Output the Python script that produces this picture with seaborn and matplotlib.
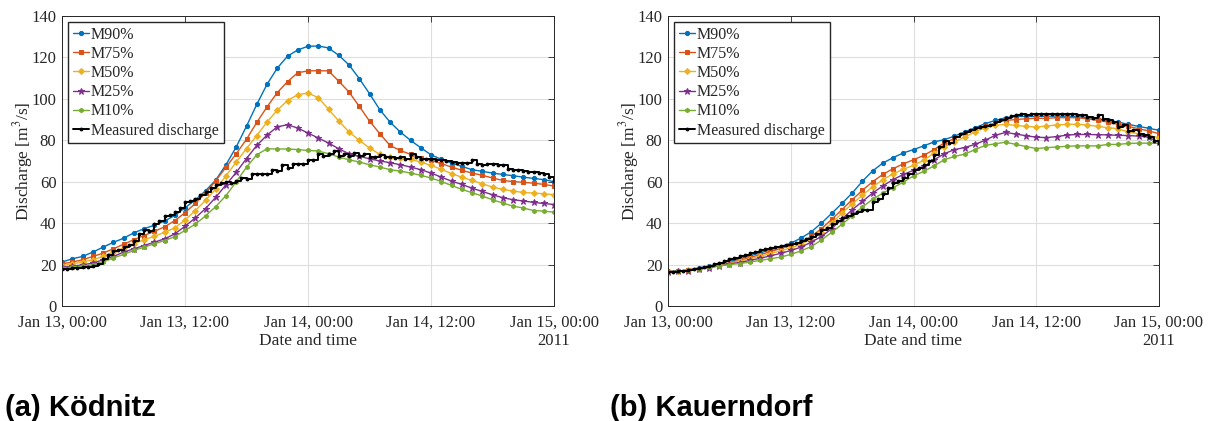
import numpy as np
import pandas as pd
import matplotlib
matplotlib.use("Agg")
import matplotlib.pyplot as plt
import matplotlib.dates as mdates
import seaborn as sns

# hourly model runs (Jan 13 00:00 .. Jan 15 00:00) and half-hourly measurements
hours = pd.date_range("2011-01-13 00:00", periods=49, freq="h")
half_hours = pd.date_range("2011-01-13 00:00", periods=97, freq="30min")

series_names = ["M90%", "M75%", "M50%", "M25%", "M10%"]
series_colors = ["#0072BD", "#D95319", "#EDB120", "#7E2F8E", "#77AC30"]
series_markers = ["o", "s", "D", "*", "h"]

# (a) Ködnitz
koed_m90 = [21.2, 22.8, 23.9, 26.0, 28.4, 30.7, 32.7, 35.3, 37.3, 39.0, 41.0, 43.7,
            47.4, 51.2, 55.6, 60.8, 68.2, 76.8, 86.8, 97.3, 107.0, 114.8, 120.6, 123.6,
            125.4, 125.5, 124.6, 121.0, 116.4, 109.8, 102.5, 94.8, 88.8, 84.0, 80.0, 76.4,
            73.0, 70.8, 69.0, 67.4, 65.8, 65.0, 64.2, 63.5, 62.9, 62.2, 61.6, 61.0, 60.0]
koed_m75 = [20.4, 21.2, 22.3, 23.9, 25.5, 27.6, 29.8, 32.0, 34.0, 36.0, 38.2, 41.2,
            45.0, 49.5, 54.5, 60.5, 67.0, 73.5, 80.5, 88.6, 96.1, 103.0, 108.3, 112.6,
            113.5, 113.6, 113.5, 108.5, 103.3, 96.4, 89.3, 83.2, 77.5, 75.1, 73.2, 71.6,
            70.3, 68.7, 67.1, 65.5, 64.2, 63.1, 61.8, 60.6, 60.1, 59.7, 59.3, 58.7, 57.9]
koed_m50 = [19.5, 20.3, 21.2, 22.3, 23.9, 26.0, 28.1, 30.0, 32.0, 33.6, 35.6, 37.7,
            41.5, 46.0, 51.0, 56.5, 62.8, 69.5, 76.0, 82.3, 88.8, 94.5, 99.2, 102.0,
            102.8, 100.6, 95.0, 89.3, 84.0, 80.0, 76.3, 73.2, 71.9, 71.4, 70.8, 69.5,
            67.9, 66.0, 63.9, 62.2, 60.6, 59.0, 57.4, 56.3, 55.5, 54.8, 54.5, 54.2, 53.7]
koed_m25 = [18.7, 19.2, 19.9, 20.7, 22.3, 23.9, 26.0, 27.6, 29.2, 30.8, 32.4, 34.8,
            38.5, 42.5, 47.0, 52.5, 58.5, 64.5, 71.2, 77.5, 82.5, 86.5, 87.5, 85.9,
            83.5, 81.1, 78.7, 75.9, 73.5, 72.2, 71.1, 70.0, 69.2, 68.2, 67.1, 65.8,
            64.2, 62.2, 60.3, 58.7, 56.9, 55.3, 53.7, 52.3, 51.3, 50.7, 50.0, 49.5, 49.0]
koed_m10 = [18.4, 18.7, 19.2, 19.9, 21.2, 23.2, 24.9, 26.8, 28.4, 30.0, 31.6, 33.5,
            36.5, 39.5, 43.5, 48.0, 53.3, 60.0, 67.0, 73.0, 75.9, 75.8, 75.8, 75.5,
            75.1, 74.8, 73.5, 71.9, 70.6, 69.5, 68.2, 67.1, 65.8, 65.1, 64.2, 63.1,
            61.8, 60.1, 58.2, 56.3, 54.7, 53.1, 51.3, 49.7, 48.2, 47.3, 46.1, 45.8, 45.3]
koed_measured = [17.9, 18.0, 18.3, 18.5, 18.7, 19.0, 19.5, 20.5, 22.8, 24.5, 26.5, 27.0,
                 28.4, 29.5, 31.5, 35.0, 36.5, 36.0, 39.5, 41.0, 43.5, 44.0, 45.3, 47.5,
                 50.0, 50.5, 51.7, 53.5, 55.0, 57.0, 58.5, 59.5, 59.8, 59.5, 60.5, 62.0,
                 61.5, 63.5, 63.5, 63.5, 63.5, 65.5, 65.0, 67.9, 66.5, 68.4, 68.4, 68.4,
                 70.3, 70.3, 73.2, 72.5, 73.5, 74.8, 72.5, 73.5, 72.3, 74.0, 72.5, 73.5,
                 72.0, 71.9, 73.0, 71.9, 71.9, 71.5, 72.0, 71.1, 73.5, 72.0, 71.1, 71.1,
                 71.0, 70.5, 70.3, 70.0, 69.5, 69.0, 69.0, 69.0, 70.3, 68.5, 67.9, 68.4,
                 68.4, 68.0, 67.9, 66.3, 65.8, 65.8, 65.0, 64.7, 64.5, 64.0, 63.9, 62.2,
                 60.5]

# (b) Kauerndorf
kau_m90 = [16.7, 16.8, 17.5, 18.4, 19.3, 20.3, 21.5, 22.8, 24.2, 25.7, 27.0, 28.7,
           30.3, 32.8, 35.8, 40.0, 44.7, 49.5, 54.5, 60.2, 65.2, 69.0, 71.6, 73.9,
           75.5, 77.3, 79.2, 80.3, 82.0, 84.0, 86.0, 88.0, 89.6, 90.9, 91.5, 91.5,
           91.5, 91.6, 91.7, 91.6, 91.4, 91.0, 90.3, 89.6, 88.8, 87.7, 86.7, 85.8, 84.8]
kau_m75 = [16.6, 16.7, 17.3, 18.1, 19.0, 19.9, 21.0, 22.0, 23.4, 24.8, 26.2, 27.8,
           29.2, 31.0, 33.6, 37.3, 41.8, 46.5, 51.3, 55.8, 60.0, 63.5, 66.3, 68.6,
           70.6, 72.7, 75.5, 78.7, 80.8, 83.2, 85.1, 86.7, 88.4, 89.6, 90.0, 90.4,
           90.6, 90.6, 90.9, 90.9, 90.9, 90.4, 89.6, 88.8, 87.7, 86.7, 85.6, 84.5, 83.2]
kau_m50 = [16.6, 16.7, 17.2, 17.9, 18.7, 19.6, 20.7, 21.6, 22.8, 24.0, 25.3, 26.7,
           28.1, 29.7, 32.4, 35.6, 40.0, 44.8, 49.3, 53.5, 57.5, 61.0, 63.8, 66.0,
           67.9, 70.3, 73.9, 76.8, 79.2, 81.6, 84.0, 86.1, 87.2, 87.7, 87.2, 86.7,
           86.4, 86.9, 87.4, 87.7, 87.7, 87.4, 86.7, 86.1, 85.6, 84.0, 83.2, 82.2, 81.3]
kau_m25 = [16.6, 16.7, 17.1, 17.8, 18.5, 19.3, 20.3, 21.0, 22.0, 23.0, 24.2, 25.4,
           26.8, 28.4, 30.8, 33.6, 37.3, 42.0, 46.4, 50.5, 54.5, 58.0, 61.0, 63.5,
           65.5, 67.4, 70.5, 73.5, 75.5, 76.5, 78.0, 80.0, 82.4, 83.8, 83.0, 82.2,
           81.5, 81.3, 81.8, 82.5, 82.8, 82.8, 82.7, 82.6, 82.4, 82.3, 82.0, 81.5, 79.0]
kau_m10 = [16.6, 16.7, 17.2, 18.0, 18.8, 19.4, 20.0, 20.5, 21.2, 22.0, 22.8, 23.6,
           24.9, 26.6, 28.7, 31.8, 35.6, 39.4, 43.5, 47.8, 51.5, 54.5, 57.1, 59.8,
           62.8, 65.0, 67.6, 70.6, 72.2, 73.3, 75.5, 77.5, 78.3, 79.1, 78.0, 77.0,
           76.0, 76.4, 76.8, 77.1, 77.3, 77.3, 77.3, 78.0, 78.0, 78.5, 78.6, 78.6, 78.5]
kau_measured = [16.6, 16.6, 16.8, 17.0, 17.3, 17.8, 18.3, 18.8, 19.5, 20.2, 20.8, 21.6,
                22.5, 23.0, 24.0, 24.8, 25.5, 26.0, 26.8, 27.3, 28.0, 28.5, 29.0, 29.5,
                30.0, 30.5, 31.3, 32.2, 33.5, 35.0, 36.5, 37.5, 39.5, 41.0, 42.5, 43.5,
                44.5, 45.5, 46.3, 46.5, 50.0, 51.5, 54.0, 57.0, 59.5, 60.5, 62.0, 63.5,
                65.5, 66.5, 68.0, 70.0, 73.0, 77.0, 79.5, 78.5, 81.5, 83.0, 84.0, 85.0,
                86.0, 86.5, 86.8, 87.5, 88.8, 89.6, 91.0, 91.5, 92.3, 92.8, 92.4, 92.6,
                92.6, 92.6, 92.6, 92.6, 92.6, 92.6, 92.6, 92.6, 92.4, 92.0, 91.2, 90.9,
                92.3, 90.5, 89.6, 88.8, 86.5, 87.3, 84.5, 85.0, 83.2, 82.5, 81.5, 79.5,
                78.5]

panels = [
    ("(a) Ködnitz", [koed_m90, koed_m75, koed_m50, koed_m25, koed_m10], koed_measured),
    ("(b) Kauerndorf", [kau_m90, kau_m75, kau_m50, kau_m25, kau_m10], kau_measured),
]

sns.set_style("white")
plt.rcParams["font.family"] = ["Liberation Serif", "DejaVu Serif"]
plt.rcParams["mathtext.fontset"] = "stix"

fig = plt.figure(figsize=(12.08, 4.21), dpi=100)
ax_rects = [[62 / 1208, 115 / 421, 492 / 1208, 290 / 421],
            [668 / 1208, 115 / 421, 491 / 1208, 290 / 421]]
caption_x = [0.004, 0.505]

for rect, cx, (title, models, measured) in zip(ax_rects, caption_x, panels):
    ax = fig.add_axes(rect)
    for name, vals, color, marker in zip(series_names, models, series_colors, series_markers):
        ms = 5 if marker == "*" else 3
        sns.lineplot(x=hours, y=vals, ax=ax, color=color, marker=marker, markersize=ms,
                     markeredgecolor=color, linewidth=1.0, label=name)
    sns.lineplot(x=half_hours, y=measured, ax=ax, color="black", marker=".", markersize=4,
                 markeredgecolor="black", linewidth=1.4, drawstyle="steps-post",
                 label="Measured discharge")

    ax.set_xlim(hours[0], hours[-1])
    ax.set_ylim(0, 140)
    ax.set_yticks(np.arange(0, 141, 20))
    ax.xaxis.set_major_locator(mdates.HourLocator(byhour=[0, 12]))
    ax.xaxis.set_major_formatter(mdates.DateFormatter("%b %d, %H:%M"))
    ax.grid(True, color="#dedede", linewidth=0.8)
    ax.tick_params(direction="in", top=True, right=True, length=4, width=0.6,
                   labelsize=12, colors="#262626")
    ax.tick_params(axis="x", pad=6)
    ax.tick_params(axis="y", pad=4)
    for sp in ax.spines.values():
        sp.set_color("#262626")
        sp.set_linewidth(0.7)

    ax.set_xlabel("Date and time", fontsize=12.5, color="#262626", va="center")
    ax.xaxis.set_label_coords(0.5, -0.121)
    ax.set_ylabel("Discharge [m$^3$/s]", fontsize=12.5, color="#262626", va="center")
    ax.yaxis.set_label_coords(-0.08, 0.5)
    ax.text(0.965, -0.121, "2011", transform=ax.transAxes, fontsize=12,
            color="#262626", ha="left", va="center")

    ax.legend(loc="upper left", bbox_to_anchor=(0.012, 0.98), borderaxespad=0,
              frameon=True, fancybox=False, edgecolor="#262626", framealpha=1,
              fontsize=11.5, handlelength=1.0, handletextpad=0.15, borderpad=0.3,
              labelspacing=0.2)

    fig.text(cx, 0.031, title, family=["Liberation Sans", "DejaVu Sans"],
             fontweight="bold", fontsize=21, color="black", ha="left", va="center")

fig.savefig("out.png", dpi=100)
